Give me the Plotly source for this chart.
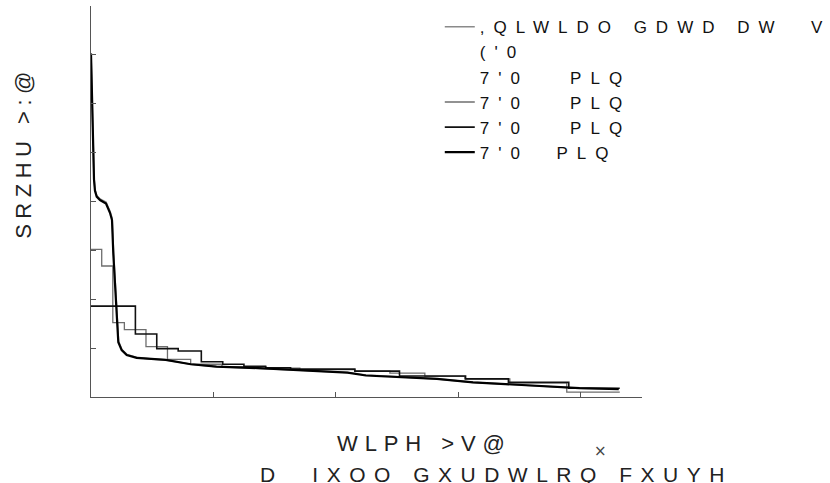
import plotly.graph_objects as go

# ---------------- data ----------------
# smooth duration curves (time [s], power)
t_initial = [0, 16000, 33000, 49000, 65000, 93000, 147000, 245000, 310000, 345000, 368000,
             395000, 424000, 450000, 505000, 590000, 750000, 960000, 1220000, 1630000,
             2050000, 2740000, 3410000, 4190000, 4490000, 5650000, 6240000, 7400000,
             7980000, 8620000]
p_initial = [7.03, 6.15, 5.30, 4.50, 4.25, 4.12, 4.05, 3.99, 3.80, 3.66, 2.98,
             2.36, 1.66, 1.14, 0.97, 0.87, 0.81, 0.78, 0.76, 0.67,
             0.62, 0.59, 0.55, 0.50, 0.45, 0.37, 0.30, 0.22,
             0.18, 0.17]

t_tdm4 = [0, 16000, 33000, 49000, 65000, 93000, 147000, 245000, 310000, 343000, 364000,
          392000, 420000, 446000, 501000, 583000, 746000, 963000, 1220000, 1630000,
          2050000, 2740000, 3410000, 4190000, 4490000, 5650000, 6240000, 7400000,
          7980000, 8620000]
p_tdm4 = [7.03, 6.10, 5.26, 4.45, 4.22, 4.10, 4.03, 3.96, 3.77, 3.62, 2.94,
          2.33, 1.64, 1.12, 0.96, 0.86, 0.80, 0.78, 0.76, 0.67,
          0.62, 0.59, 0.55, 0.50, 0.44, 0.37, 0.30, 0.22,
          0.18, 0.16]

# stepwise curves (start time of each step [s], power)
t_tdm2 = [0, 175000, 356000, 545000, 898000, 1249000, 1628000, 2139000, 2857000,
          3412000, 4310000, 4882000, 5453000, 6106000, 6841000, 7771000, 8637000]
p_tdm2 = [3.02, 2.68, 1.52, 1.38, 1.03, 0.77, 0.67, 0.62, 0.59,
          0.56, 0.53, 0.49, 0.42, 0.37, 0.29, 0.10, 0.10]

t_tdm3 = [0, 725000, 1074000, 1424000, 1802000, 2152000, 2498000, 2852000, 3260000,
          4310000, 5039000, 6118000, 6818000, 7804000, 8637000]
p_tdm3 = [1.86, 1.29, 0.99, 0.94, 0.72, 0.67, 0.63, 0.60, 0.57,
          0.53, 0.43, 0.37, 0.30, 0.18, 0.18]

legend_names = [",QLWLDO GDWD DW  V", "('0", "7'0   PLQ", "7'0   PLQ",
                "7'0   PLQ", "7'0  PLQ"]
y_title = "SRZHU >:@"
x_title = "WLPH >V@"
caption = "D  IXOO GXUDWLRQ FXUYH"
mark = "×"

x_range = [0, 9000000]
x_dtick = 2000000
y_range = [0, 8]
y_dtick = 1


def tracked(s, ls):
    s = s.replace(" ", "\u00a0")
    return '<span style="letter-spacing:%.1fpx">%s</span>' % (ls, s)


LEG_LS = 9.0

fig = go.Figure()

# Initial data
fig.add_trace(go.Scatter(x=t_initial, y=p_initial, mode="lines",
                         name=tracked(legend_names[0], LEG_LS),
                         line=dict(color="#8a8a8a", width=1.6)))
# EDM, TDM (no visible sample)
fig.add_trace(go.Scatter(x=[None], y=[None], mode="lines", name=tracked(legend_names[1], LEG_LS),
                         line=dict(color="rgba(0,0,0,0)", width=1)))
fig.add_trace(go.Scatter(x=[None], y=[None], mode="lines", name=tracked(legend_names[2], LEG_LS),
                         line=dict(color="rgba(0,0,0,0)", width=1)))
# TDM 2
fig.add_trace(go.Scatter(x=t_tdm2, y=p_tdm2, mode="lines", name=tracked(legend_names[3], LEG_LS),
                         line=dict(color="#6e6e6e", width=1.3, shape="hv")))
# TDM 3
fig.add_trace(go.Scatter(x=t_tdm3, y=p_tdm3, mode="lines", name=tracked(legend_names[4], LEG_LS),
                         line=dict(color="#111111", width=1.6, shape="hv")))
# TDM 4
fig.add_trace(go.Scatter(x=t_tdm4, y=p_tdm4, mode="lines", name=tracked(legend_names[5], LEG_LS),
                         line=dict(color="#000000", width=2.2)))

axis_common = dict(showgrid=False, zeroline=False, showticklabels=False,
                   showline=True, linecolor="#555555", linewidth=1,
                   ticks="inside", ticklen=5, tickcolor="#555555", tickwidth=1)

fig.update_xaxes(range=x_range, dtick=x_dtick, tick0=0, **axis_common)
fig.update_yaxes(range=y_range, dtick=y_dtick, tick0=0, **axis_common)

FAM = "Liberation Sans, Arial, sans-serif"
title_font = dict(family=FAM, size=22, color="#222222")
caption_font = dict(family=FAM, size=21, color="#222222")

fig.update_layout(
    width=830, height=483,
    margin=dict(l=91, r=188, t=6, b=86, autoexpand=False),
    paper_bgcolor="white", plot_bgcolor="white",
    showlegend=True,
    legend=dict(x=0.633, y=0.992, xanchor="left", yanchor="top",
                bgcolor="rgba(0,0,0,0)", borderwidth=0,
                font=dict(family=FAM, size=17, color="#111111"),
                tracegroupgap=0, itemwidth=30),
    annotations=[
        dict(text=tracked(y_title, 5.5), xref="paper", yref="paper", x=-0.123, y=0.625,
             xanchor="center", yanchor="middle", textangle=-90, showarrow=False, font=title_font),
        dict(text=tracked(x_title, 6.9), xref="paper", yref="paper", x=0.605, y=-0.118,
             xanchor="center", yanchor="middle", showarrow=False, font=title_font),
        dict(text=mark, xref="paper", yref="paper", x=0.924, y=-0.138,
             xanchor="center", yanchor="middle", showarrow=False,
             font=dict(family="DejaVu Sans, sans-serif", size=15, color="#444444")),
        dict(text=tracked(caption, 8.5), xref="paper", yref="paper", x=0.736, y=-0.197,
             xanchor="center", yanchor="middle", showarrow=False, font=caption_font),
    ],
)

fig.write_html("out.html")
